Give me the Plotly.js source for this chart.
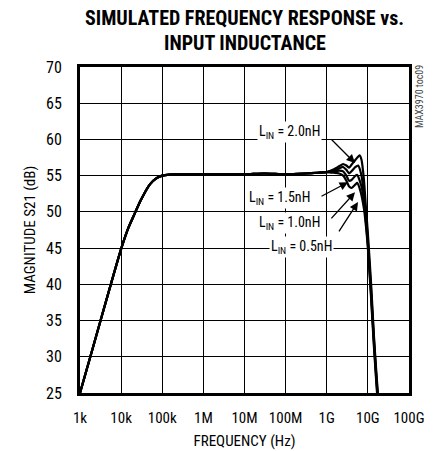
<!DOCTYPE html>
<html><head><meta charset="utf-8">
<script src="https://cdn.plot.ly/plotly-3.0.1.min.js"></script>
<style>html,body{margin:0;padding:0;background:#fff;}#chart{width:433px;height:451px;}</style>
</head><body><div id="chart"></div>
<script>
// Common low/mid-frequency part (Hz, dB)
const freqCommon = [1e3, 2e3, 5e3, 1e4, 1.5e4, 2e4, 3e4, 5e4, 7e4, 1e5, 1.5e5, 3e5, 1e6, 1e7, 3e7, 1e8, 3e8, 6e8, 1e9];
const magCommon  = [25, 31, 39, 44.9, 47.8, 49.4, 51.6, 53.8, 54.6, 55.0, 55.15, 55.2, 55.2, 55.2, 55.3, 55.2, 55.3, 55.4, 55.5];

// High-frequency part for each input inductance
const freq20 = [1.5e9, 2e9, 2.5e9, 3e9, 3.5e9, 4e9, 5e9, 6.3e9, 7e9, 8e9, 9e9, 1e10, 1.2e10, 1.4e10, 1.6e10, 1.75e10];
const mag20  = [55.9, 56.3, 56.6, 56.4, 56.1, 56.5, 57.2, 57.8, 57.2, 54.5, 50.5, 47, 40, 33, 28, 25];
const freq15 = [1.5e9, 2e9, 2.5e9, 3e9, 3.5e9, 4e9, 5e9, 5.8e9, 7e9, 8e9, 9e9, 1e10, 1.2e10, 1.4e10, 1.6e10, 1.72e10];
const mag15  = [55.7, 56.0, 56.2, 55.8, 55.3, 55.6, 56.2, 56.4, 55, 52.5, 49.5, 46, 39, 32.5, 27.5, 25];
const freq10 = [1.5e9, 2e9, 2.5e9, 3e9, 3.5e9, 4e9, 5e9, 5.5e9, 7e9, 8e9, 9e9, 1e10, 1.2e10, 1.4e10, 1.6e10, 1.7e10];
const mag10  = [55.6, 55.7, 55.6, 55.0, 54.3, 54.4, 55.0, 55.1, 53.5, 51.5, 48.5, 45.5, 38.5, 32, 27, 25];
const freq05 = [1.5e9, 2e9, 2.5e9, 3e9, 3.5e9, 4e9, 5e9, 5.5e9, 6.5e9, 8e9, 9e9, 1e10, 1.2e10, 1.4e10, 1.6e10, 1.67e10];
const mag05  = [55.4, 55.3, 55.0, 54.3, 53.5, 53.3, 53.8, 54.0, 53, 50.5, 48, 45, 38, 31.5, 26.5, 25];

const xTickVals = [1e3, 1e4, 1e5, 1e6, 1e7, 1e8, 1e9, 1e10, 1e11];
const xTickText = ['1k', '10k', '100k', '1M', '10M', '100M', '1G', '10G', '100G'];

const titleLines = ['SIMULATED FREQUENCY RESPONSE vs.', 'INPUT INDUCTANCE'];
const labels = ['L<sub>IN</sub> = 2.0nH', 'L<sub>IN</sub> = 1.5nH', 'L<sub>IN</sub> = 1.0nH', 'L<sub>IN</sub> = 0.5nH'];
// label centers (log10 f, dB)
const labelX = [8.106, 7.863, 8.106, 8.374];
const labelY = [61.0, 51.9, 48.5, 45.15];
// arrow tails and tips (log10 f, dB)
const arrowTailX = [9.079, 8.836, 9.079, 9.274];
const arrowTailY = [60.2, 52.05, 48.9, 47.1];
const arrowTipX = [9.687, 9.517, 9.687, 9.760];
const arrowTipY = [56.75, 54.1, 52.7, 51.35];

const FONT = '"Roboto Condensed", "Liberation Sans Narrow", "Arial Narrow", sans-serif';

const sets = [[freq20, mag20], [freq15, mag15], [freq10, mag10], [freq05, mag05]];
const traces = sets.map(([f, m]) => ({
  x: freqCommon.concat(f), y: magCommon.concat(m),
  type: 'scatter', mode: 'lines',
  line: {color: '#000', width: 2.2, shape: 'spline', smoothing: 0.6},
  hoverinfo: 'skip', showlegend: false
}));

const annotations = [];
annotations.push({xref: 'paper', yref: 'paper', x: 0.5, y: 1.150, yanchor: 'middle', showarrow: false,
  text: '<b>' + titleLines[0] + '</b>', font: {family: FONT, size: 20, color: '#000'}});
annotations.push({xref: 'paper', yref: 'paper', x: 0.5, y: 1.0736, yanchor: 'middle', showarrow: false,
  text: '<b>' + titleLines[1] + '</b>', font: {family: FONT, size: 20, color: '#000'}});
labels.forEach((t, i) => {
  annotations.push({x: labelX[i], y: labelY[i], xref: 'x', yref: 'y', text: t, showarrow: false,
    bgcolor: '#fff', borderpad: 1, font: {family: FONT, size: 14, color: '#000'}});
  annotations.push({x: arrowTipX[i], y: arrowTipY[i], xref: 'x', yref: 'y', axref: 'x', ayref: 'y',
    ax: arrowTailX[i], ay: arrowTailY[i], text: '', showarrow: true,
    arrowhead: 2, arrowsize: 1.3, arrowwidth: 1.3, arrowcolor: '#000', standoff: 0});
});
annotations.push({xref: 'paper', yref: 'paper', x: 1.0, y: 1.012, xanchor: 'left', yanchor: 'top', xshift: 3,
  text: 'MAX3970 toc09', textangle: -90, showarrow: false,
  font: {family: FONT, size: 10, color: '#444'}});

const layout = {
  width: 433, height: 451,
  margin: {l: 80, r: 24, t: 67, b: 58},
  paper_bgcolor: '#fff', plot_bgcolor: '#fff',
  font: {family: FONT, color: '#000', size: 15},
  xaxis: {type: 'log', range: [3, 11], tickvals: xTickVals, ticktext: xTickText,
    showgrid: true, gridcolor: '#000', gridwidth: 1, ticks: '', ticklabelstandoff: 9,
    showline: true, linecolor: '#000', linewidth: 3, mirror: true, zeroline: false,
    tickfont: {family: FONT, size: 15}, title: {text: 'FREQUENCY (Hz)', font: {family: FONT, size: 15}, standoff: 10}},
  yaxis: {range: [25, 70], dtick: 5, tick0: 25,
    showgrid: true, gridcolor: '#000', gridwidth: 1, ticks: '', ticklabelstandoff: 12,
    showline: true, linecolor: '#000', linewidth: 3, mirror: true, zeroline: false,
    tickfont: {family: FONT, size: 16}, title: {text: 'MAGNITUDE S21 (dB)', font: {family: FONT, size: 15}, standoff: 7}},
  annotations: annotations
};
Plotly.newPlot('chart', traces, layout, {staticPlot: true, displayModeBar: false});
</script></body></html>
